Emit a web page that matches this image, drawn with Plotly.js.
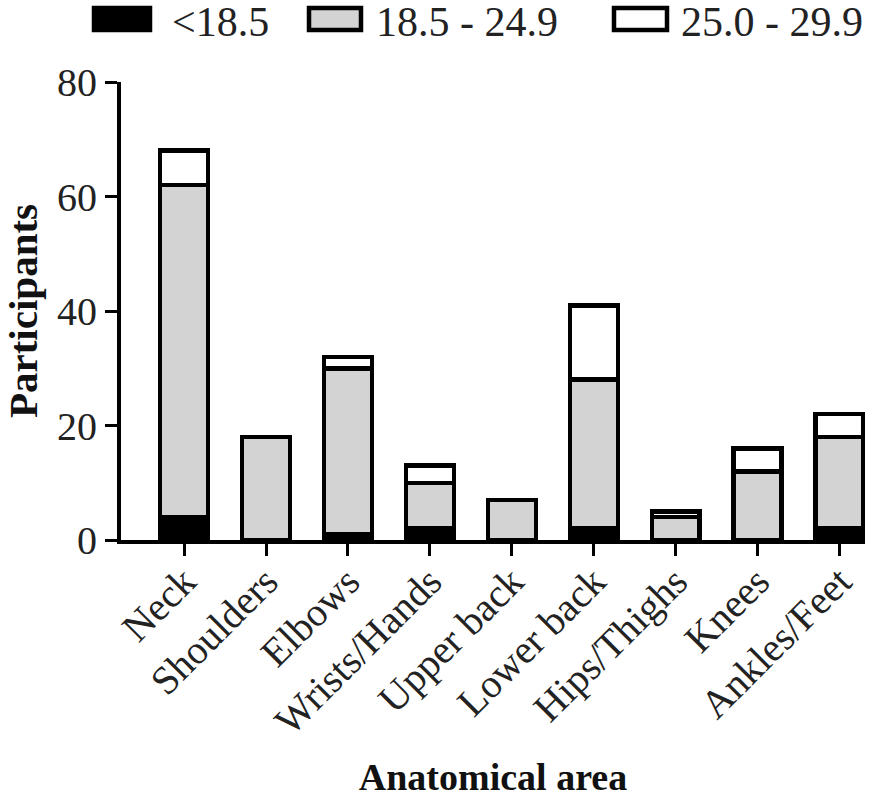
<!DOCTYPE html>
<html>
<head>
<meta charset="utf-8">
<script src="https://cdn.plot.ly/plotly-3.0.1.min.js"></script>
<style>html,body{margin:0;padding:0;background:#fff;}#chart{width:893px;height:805px;}</style>
</head>
<body>
<div id="chart"></div>
<script>
const categories = ["Neck","Shoulders","Elbows","Wrists/Hands","Upper back","Lower back","Hips/Thighs","Knees","Ankles/Feet"];
const seriesNames = ["<18.5","18.5 - 24.9","25.0 - 29.9"];
const under185 = [4, null, 1, 2, null, 2, null, null, 2];
const normal = [58, 18, 29, 8, 7, 26, 4, 12, 16];
const over25 = [6, null, 2, 3, null, 13, 1, 4, 4];
const yTicks = [0, 20, 40, 60, 80];
const fills = ["#000000", "#d3d3d3", "#ffffff"];

const FONT = "Liberation Serif, Times New Roman, serif";
const data = [under185, normal, over25].map((vals, i) => ({
  type: "bar",
  name: seriesNames[i],
  x: categories.map((c, k) => k),
  y: vals,
  width: 0.585,
  marker: {color: fills[i], line: {color: "#000", width: 4.5}},
  showlegend: false,
  hoverinfo: "skip"
}));

// custom legend (large boxes as in reference)
const L = 121, R = 865, T = 82, B = 540;
const px = v => (v - L) / (R - L);
const py = v => (B - v) / (B - T);
const boxX = [[94,150],[309,361],[614,667]];
const textX = [170, 374, 679];
const shapes = boxX.map((b, i) => ({
  type: "rect", xref: "paper", yref: "paper",
  x0: px(b[0]), x1: px(b[1]), y0: py(30), y1: py(8),
  fillcolor: fills[i], line: {color: "#000", width: 4.5}
}));
const annotations = seriesNames.map((n, i) => ({
  xref: "paper", yref: "paper", x: px(textX[i]), y: py(22),
  xanchor: "left", yanchor: "middle", text: n, showarrow: false,
  font: {family: FONT, size: 42, color: "#222"}
}));

const layout = {
  width: 893, height: 805,
  margin: {l: L, r: 893 - R, t: T, b: 805 - B},
  paper_bgcolor: "#fff", plot_bgcolor: "#fff",
  barmode: "stack",
  showlegend: false,
  font: {family: FONT, color: "#222"},
  xaxis: {
    range: [-0.77, 8.31],
    tickmode: "array",
    tickvals: categories.map((c, k) => k),
    ticktext: categories,
    tickangle: -45,
    ticks: "outside", ticklen: 12, tickwidth: 3, tickcolor: "#000",
    ticklabelstandoff: -14,
    showline: true, linecolor: "#000", linewidth: 4,
    showgrid: false, zeroline: false,
    tickfont: {family: FONT, size: 40, color: "#222"},
    title: {text: "<b>Anatomical area</b>", font: {family: FONT, size: 38, color: "#111"}, standoff: 22}
  },
  yaxis: {
    range: [0, 80],
    tickmode: "array", tickvals: yTicks, ticktext: yTicks.map(String),
    ticks: "outside", ticklen: 12, tickwidth: 3, tickcolor: "#000",
    showline: true, linecolor: "#000", linewidth: 4,
    showgrid: false, zeroline: false,
    tickfont: {family: FONT, size: 40, color: "#222"},
    title: {text: "<b>Participants</b>", font: {family: FONT, size: 41, color: "#111"}, standoff: 8}
  },
  shapes: shapes,
  annotations: annotations
};
Plotly.newPlot("chart", data, layout, {staticPlot: true, displayModeBar: false});
</script>
</body>
</html>
